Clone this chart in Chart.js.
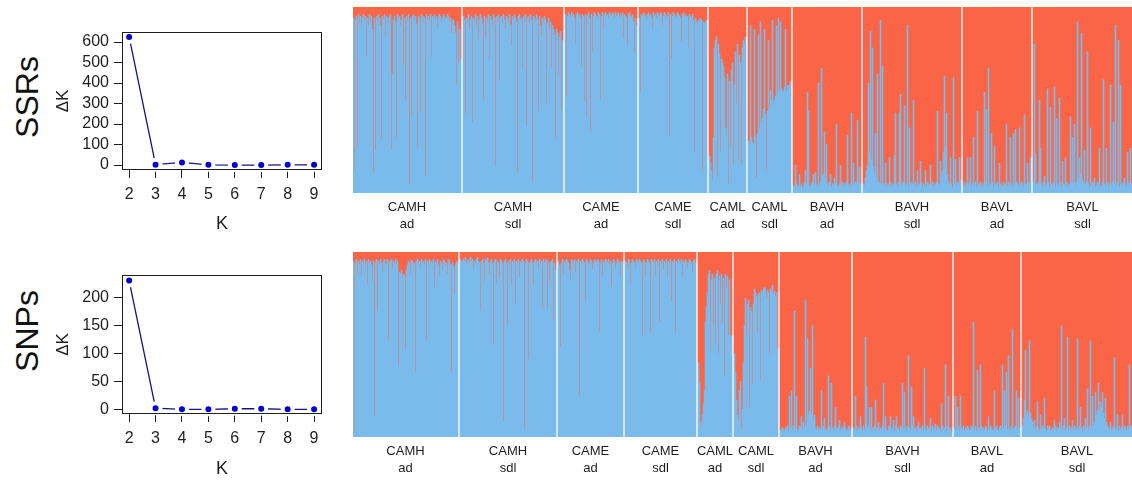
<!DOCTYPE html>
<html>
<head>
<meta charset="utf-8">
<script src="https://cdn.jsdelivr.net/npm/chart.js@4.4.1/dist/chart.umd.min.js"></script>
<style>
  body { margin: 0; background: #fff; width: 1132px; height: 483px; overflow: hidden; position: relative;
         font-family: "Liberation Sans", Arial, sans-serif; }
  canvas { position: absolute; }
  .rowname { position: absolute; font-size: 32px; color: #111; white-space: nowrap;
             transform: translate(-50%, -50%) rotate(-90deg); }
</style>
</head>
<body>
<div class="rowname" style="left:27px; top:97px">SSRs</div>
<div class="rowname" style="left:27px; top:331px">SNPs</div>
<canvas id="dkSsr" width="350" height="240" style="left:0; top:0"></canvas>
<canvas id="dkSnp" width="350" height="240" style="left:0; top:240px"></canvas>
<canvas id="qSsr" width="779" height="236" style="left:353px; top:7px"></canvas>
<canvas id="qSnp" width="779" height="235" style="left:353px; top:252px"></canvas>
<script>
// Evanno delta K for K = 2..9
const kValues = [2, 3, 4, 5, 6, 7, 8, 9];
const ssrDeltaK = [625, 2, 13, 1, 0, 0, 1, 1];
const snpDeltaK = [230, 2, 0, 0, 1, 1, 0, 0];
const ssrTicks = [0, 100, 200, 300, 400, 500, 600];
const snpTicks = [0, 50, 100, 150, 200];

// population / life stage groups, same order in both panels
const groupNames = ['CAMH', 'CAMH', 'CAME', 'CAME', 'CAML', 'CAML', 'BAVH', 'BAVH', 'BAVL', 'BAVL'];
const groupStages = ['ad', 'sdl', 'ad', 'sdl', 'ad', 'sdl', 'ad', 'sdl', 'ad', 'sdl'];

// K = 2 membership in cluster 1 (%), one value per individual - SSRs
const ssrCamhAd = [
  94,12,93,95,25,96,92,95,90,94, 96,93,95,73,94,90,96,92,95,88, 11,94,23,95,92,96,94,90,29,95,
  93,96,84,95,94,91,95,96,23,64, 93,95,92,29,96,94,95,90,93,96, 69,94,50,95,92,96,5,94,41,95,
  96,93,95,91,24,95,94,43,96,92, 95,94,9,96,93,95,92,96,73,95, 94,96,93,95,88,94,96,95,92,94,
  96,95,93,94,96,95,92,94,86,93, 93,90,86,58,92,70,88,72];
const ssrCamhSdl = [
  95,93,42,94,92,96,88,93,95,38, 94,92,96,90,95,82,93,96,94,91, 50,95,83,94,92,96,72,95,93,90,
  96,94,14,95,92,96,60,94,95,91, 96,93,88,95,94,92,96,90,79,95, 93,96,94,92,11,95,96,93,94,66,
  95,92,96,36,94,95,91,96,93,6, 95,94,92,96,93,44,95,90,84,94, 92,95,93,48,91,94,88,92,67,90,
  88,85,29,88,86,64,84,87,44,82];
const ssrCameAd = [
  96,52,95,97,96,94,97,95,96,94, 80,96,97,95,96,94,68,96,95,49, 96,40,95,97,94,33,96,76,95,97,
  96,95,94,97,96,50,95,97,89,96, 97,95,96,94,97,96,95,97,96,94, 97,95,96,97,94,96,95,97,83,96,
  95,94,79,96,97,95,94,96,92,75, 94,90];
const ssrCameSdl = [
  94,54,96,95,97,96,95,93,96,97, 95,96,94,88,97,95,96,94,97,96, 95,97,96,90,95,97,96,94,95,97,
  30,96,72,95,97,96,94,95,97,96, 95,94,81,96,97,95,96,94,95,78, 96,95,94,96,93,22,94,92,91,93,
  92,94,93,12,92,91,92,93];
const ssrCamlAd = [
  20,16,12,7,30,78,82,84,9,80, 75,22,72,70,68,62,35,30,64,5, 60,25,66,70,15,58,76,48,80,18,
  74,70,15,78,82,80,84];
const ssrCamlSdl = [
  28,26,90,30,27,26,88,30,8,32, 85,35,92,38,40,45,88,42,12,44, 82,46,55,50,93,48,50,52,90,54,
  94,55,92,56,55,54,57,88,55,58, 56,58,60];
const ssrBavhAd = [
  4,3,15,5,3,4,10,3,5,2, 4,6,12,5,54,44,4,3,5,6, 10,4,11,5,3,59,4,6,67,9,
  10,33,8,26,5,4,6,10,3,5, 4,8,5,37,4,3,5,15,4,6, 3,5,4,6,31,4,5,3,43,5,
  16,4,6,5,39,6,14,5];
const ssrBavhSdl = [
  5,4,8,12,15,59,22,87,18,78, 14,10,32,8,64,6,5,93,4,68, 5,4,16,3,5,4,19,6,3,5,
  4,20,43,5,3,6,43,53,4,5, 6,47,4,5,90,3,35,6,4,5, 50,4,6,3,12,5,4,17,6,3,
  5,4,12,3,6,4,5,15,4,6, 3,5,4,6,44,5,4,17,8,12, 22,63,25,43,10,6,4,19,5,3,
  62,5,18,4,6,5,19,7];
const ssrBavlAd = [
  4,6,3,5,19,4,6,19,3,5, 30,4,6,3,44,5,4,6,3,5, 4,54,6,45,3,67,5,4,32,6,
  3,25,5,4,6,3,16,5,4,3, 6,4,5,37,3,6,4,30,5,3, 32,4,34,6,5,3,35,4,6,5,
  3,42,5,4,16,6,5,19];
const ssrBavlSdl = [
  6,80,21,5,4,6,50,24,5,3, 6,9,4,5,56,6,3,46,5,4, 6,57,3,40,5,4,51,6,3,17,
  5,4,19,6,3,5,4,41,6,30, 5,37,4,6,92,8,19,10,86,7, 5,23,4,6,76,5,3,35,4,6,
  5,8,3,4,6,5,24,4,3,6, 61,5,4,24,6,3,5,58,4,6, 38,5,90,4,6,82,3,58,5,4,
  6,8,5,3,22,4,6,24,5];

// same for SNPs
const snpCamhAd = [
  95,2,94,96,88,95,93,96,87,95, 94,96,93,95,82,96,94,95,93,84, 95,11,94,96,68,95,93,96,94,89,
  95,96,93,94,96,52,95,94,96,91, 95,93,96,94,95,38,89,88,90,86, 88,87,47,90,93,95,94,88,96,95,
  93,94,35,95,96,94,95,91,96,94, 95,93,96,52,95,94,96,93,95,94, 96,80,95,94,96,93,87,95,94,90,
  96,95,93,94,88,96,95,93,35,94, 92,77,93,95,94];
const snpCamhSdl = [
  96,95,94,96,95,97,93,95,96,94, 97,95,96,91,95,94,96,97,95,94, 68,95,96,94,84,96,95,97,94,88,
  95,96,94,50,95,96,83,95,94,86, 96,95,94,8,95,96,94,60,95,93, 96,82,95,94,96,72,95,94,96,86,
  95,94,96,95,4,94,96,95,42,94, 95,96,94,82,95,96,94,95,90,96, 94,95,70,96,94,95,96,69,95,84,
  94,95,96,63,94,90];
const snpCameAd = [
  95,93,49,94,96,88,95,94,96,95, 94,90,84,96,95,94,96,89,95,94, 96,22,95,94,96,95,94,73,96,95,
  94,93,96,95,90,94,96,95,94,96, 95,57,94,96,87,95,94,96,95,94, 96,93,95,81,94,96,95,91,94,96,
  95,94,86,95,94];
const snpCameSdl = [
  95,94,91,96,95,82,94,96,95,94, 91,96,95,94,96,95,94,54,96,95, 86,94,96,95,94,56,96,95,94,96,
  87,95,94,96,62,95,94,96,90,95, 94,96,86,95,94,96,73,95,94,96, 56,95,94,96,95,94,96,86,95,94,
  96,95,91,94,96,95,94,89,95,96, 94];
const snpCamlAd = [
  40,30,8,5,12,18,25,62,70,78, 88,90,46,85,88,60,86,50,88,90, 45,87,72,88,62,86,33,88,80,87,
  55,85,54,55];
const snpCamlSdl = [
  45,35,20,12,8,25,30,4,15,40, 60,75,55,72,74,16,70,68,28,72, 80,78,76,56,77,78,30,79,78,80,
  81,80,75,79,78,45,80,78,82,77, 79,76,78,48];
const snpBavhAd = [
  4,3,5,4,3,5,4,6,3,22, 5,25,4,6,68,5,22,3,4,6, 5,11,4,8,5,74,6,53,12,14,
  37,13,60,10,12,5,4,6,3,5, 4,25,5,6,10,4,3,5,33,6, 4,29,5,3,6,16,5,4,6,9,
  3,5,4,6,8,5,3,4,6,5, 4];
const snpBavhSdl = [
  5,4,22,6,3,5,4,11,5,3, 6,4,54,27,5,6,16,4,16,5, 3,6,20,4,5,8,3,5,4,6,
  29,5,11,4,3,6,5,11,4,5, 9,3,6,11,4,5,3,6,5,29, 4,24,5,3,6,44,5,4,27,6,
  11,4,5,3,6,8,4,5,3,6, 4,37,5,3,6,4,5,10,3,6, 4,5,7,3,6,4,5,3,18,6,
  4,5,39,3,6,22,4,5,3];
const snpBavlAd = [
  5,22,4,16,6,3,22,5,4,6, 3,5,4,6,5,3,4,6,5,62, 4,6,3,36,5,4,39,6,3,5,
  4,6,5,3,11,4,6,5,3,4, 25,5,6,4,3,5,6,4,39,5, 25,6,35,4,44,5,3,6,58,4,
  5,6,25,4,21,5];
const snpBavlSdl = [
  6,10,20,47,12,14,11,52,13,10, 8,5,9,4,6,19,5,3,12,4, 6,5,21,4,3,6,5,6,4,3,
  5,4,9,6,3,5,4,8,5,60, 4,6,10,3,5,54,4,6,3,5, 9,4,6,3,5,53,4,6,16,5,
  3,6,4,10,5,26,4,6,52,5, 22,6,8,24,12,14,29,15,19,16, 24,13,10,21,8,6,5,4,8,3,
  5,6,43,4,5,12,3,6,4,5, 12,4,6,5,3,6,4,39,5,6];

const ssrGroups = [ssrCamhAd, ssrCamhSdl, ssrCameAd, ssrCameSdl, ssrCamlAd, ssrCamlSdl, ssrBavhAd, ssrBavhSdl, ssrBavlAd, ssrBavlSdl];
const snpGroups = [snpCamhAd, snpCamhSdl, snpCameAd, snpCameSdl, snpCamlAd, snpCamlSdl, snpBavhAd, snpBavhSdl, snpBavlAd, snpBavlSdl];

const FONT = '"Liberation Sans", Arial, sans-serif';
const INK = '#1e1e1e';
const BLUE = '#7bbbeb';
const RED = '#fa6448';

Chart.defaults.font.family = FONT;
Chart.defaults.color = INK;

// box round the plot region, drawn last so the point halos don't cut it
const frameBox = {
    id: 'frameBox',
    afterDraw(chart) {
        const { ctx, chartArea: a } = chart;
        ctx.save();
        ctx.strokeStyle = INK;
        ctx.lineWidth = 1;
        ctx.strokeRect(a.left + 0.5, a.top + 0.5, a.right - a.left - 1, a.bottom - a.top - 1);
        ctx.restore();
    }
};

// axis names
const axisNames = {
    id: 'axisNames',
    afterDraw(chart, args, opts) {
        const { ctx, chartArea: a } = chart;
        ctx.save();
        ctx.fillStyle = INK;
        ctx.textAlign = 'center';
        ctx.textBaseline = 'middle';
        ctx.font = '18px ' + FONT;
        ctx.fillText(opts.x, (a.left + a.right) / 2, opts.xAt);
        ctx.translate(opts.yAt, (a.top + a.bottom) / 2);
        ctx.rotate(-Math.PI / 2);
        ctx.font = '17px ' + FONT;
        ctx.fillText(opts.y, 0, 0);
        ctx.restore();
    }
};

function deltaKChart(canvasId, values, yTicks, yMin, yMax, padTop, xHeight, xNameAt) {
    const tickStyle = { drawOnChartArea: false, tickLength: 8, tickColor: INK, lineWidth: 1 };
    return new Chart(document.getElementById(canvasId), {
        type: 'line',
        data: {
            datasets: [{
                data: kValues.map((k, i) => ({ x: k, y: values[i] })),
                borderColor: '#14147a',
                borderWidth: 1.3,
                pointRadius: 5,
                pointBackgroundColor: '#0000d2',
                pointBorderColor: '#ffffff',
                pointBorderWidth: 4,
                clip: false
            }]
        },
        options: {
            responsive: false,
            animation: false,
            layout: { padding: { top: padTop, right: 28, left: 0, bottom: 0 } },
            scales: {
                x: {
                    type: 'linear', min: 1.73, max: 9.3,
                    afterBuildTicks: s => { s.ticks = kValues.map(v => ({ value: v })); },
                    afterFit: s => { s.height = xHeight; },
                    grid: tickStyle,
                    border: { display: false },
                    ticks: { padding: 7, font: { size: 16 }, maxRotation: 0, autoSkip: false }
                },
                y: {
                    min: yMin, max: yMax,
                    afterBuildTicks: s => { s.ticks = yTicks.map(v => ({ value: v })); },
                    afterFit: s => { s.width = 122; },
                    grid: tickStyle,
                    border: { display: false },
                    ticks: { padding: 5, font: { size: 16 }, autoSkip: false }
                }
            },
            plugins: {
                legend: { display: false },
                tooltip: { enabled: false },
                axisNames: { x: 'K', y: 'ΔK', xAt: xNameAt, yAt: 63 }
            }
        },
        plugins: [frameBox, axisNames]
    });
}

deltaKChart('dkSsr', ssrDeltaK, ssrTicks, -24, 649, 32, 70, 224);
deltaKChart('dkSnp', snpDeltaK, snpTicks, -8.4, 240, 35, 66, 229);

// group names under each block of individuals
const groupLabels = {
    id: 'groupLabels',
    afterDraw(chart, args, opts) {
        const { ctx, chartArea: a } = chart;
        const xs = chart.scales.x;
        ctx.save();
        ctx.fillStyle = INK;
        ctx.textAlign = 'center';
        ctx.textBaseline = 'middle';
        ctx.font = '13px ' + FONT;
        opts.spans.forEach(sp => {
            const cx = (xs.getPixelForValue(sp.start) + xs.getPixelForValue(sp.end)) / 2;
            ctx.fillText(sp.name, cx, a.bottom + 14);
            ctx.fillText(sp.stage, cx, a.bottom + 31);
        });
        ctx.restore();
    }
};

function structureChart(canvasId, groups) {
    const labels = [], blue = [], red = [], spans = [];
    groups.forEach((q, gi) => {
        if (gi > 0) {
            // white gap between groups
            for (let g = 0; g < 2; g++) { labels.push(''); blue.push(null); red.push(null); }
        }
        const start = labels.length;
        q.forEach((v, i) => {
            labels.push(groupNames[gi] + ' ' + groupStages[gi] + ' ' + (i + 1));
            blue.push(v);
            red.push(100 - v);
        });
        spans.push({ name: groupNames[gi], stage: groupStages[gi], start, end: labels.length - 1 });
    });
    return new Chart(document.getElementById(canvasId), {
        type: 'bar',
        data: {
            labels,
            datasets: [
                { data: blue, backgroundColor: BLUE },
                { data: red, backgroundColor: RED }
            ]
        },
        options: {
            responsive: false,
            animation: false,
            layout: { padding: { bottom: 50 } },
            datasets: { bar: { categoryPercentage: 1, barPercentage: 1, borderWidth: 0, inflateAmount: 'auto' } },
            scales: {
                x: { display: false, stacked: true },
                y: { display: false, stacked: true, min: 0, max: 100 }
            },
            plugins: {
                legend: { display: false },
                tooltip: { enabled: false },
                groupLabels: { spans }
            }
        },
        plugins: [groupLabels]
    });
}

structureChart('qSsr', ssrGroups);
structureChart('qSnp', snpGroups);
</script>
</body>
</html>
